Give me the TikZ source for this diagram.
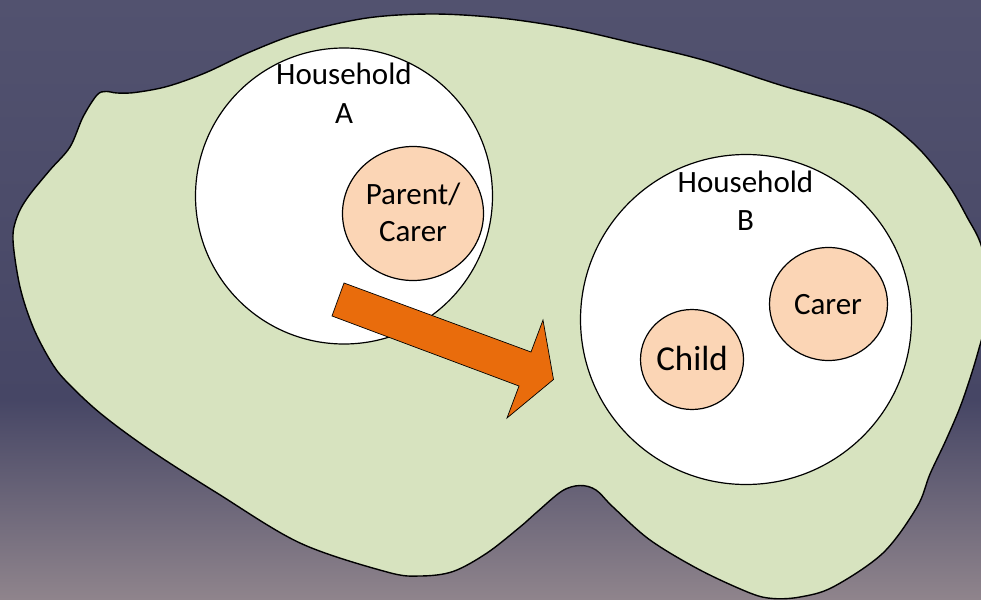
\documentclass[tikz,border=0pt]{standalone}
\usepackage{fontspec}
\setmainfont{Carlito}
\usetikzlibrary{shapes.geometric}

\definecolor{bgtop}{RGB}{82,82,111}
\definecolor{bgmid}{RGB}{70,70,101}
\definecolor{bgbot}{RGB}{143,132,140}
\definecolor{blobgreen}{RGB}{215,227,191}
\definecolor{peach}{RGB}{251,213,181}
\definecolor{moveorange}{RGB}{233,108,12}

\tikzset{
  blob/.style={fill=blobgreen, draw=black, line width=1.4pt},
  house/.style={ellipse, draw=black, fill=white, line width=1.2pt, inner sep=0pt},
  person/.style={ellipse, draw=black, fill=peach, line width=1.2pt, inner sep=0pt},
  movearrow/.style={fill=moveorange, draw=black, line width=0.7pt, line join=miter},
  lbl/.style={anchor=base, inner sep=0pt, font=\fontsize{31}{38}\selectfont},
  biglbl/.style={anchor=base, inner sep=0pt, font=\fontsize{35}{42}\selectfont}
}

\begin{document}
\begin{tikzpicture}[x=1pt, y=-1pt]
  \useasboundingbox (0,0) rectangle (981,599);
  \clip (0,0) rectangle (981,599);

  % background: slate blue fading to mauve at the bottom
  \shade[top color=bgtop, bottom color=bgmid] (0,0) rectangle (981,400);
  \shade[top color=bgmid, bottom color=bgbot] (0,399.5) rectangle (981,599);

  % community blob
  \draw[blob] plot[smooth cycle, tension=0.55] coordinates {
    (106,91.5) (117,93) (135,92.5) (167,86.5) (205,73) (250,52)
    (300,33) (367,18) (433,14) (500,18) (567,28) (633,43) (703,60)
    (780,85) (867,111) (913,143) (947,183) (967,217) (982,248)
    (990,300) (978,352) (962,402) (946,440) (930,474) (917,507)
    (883,553) (833,587) (800,597) (773,598.5) (750,593) (700,570)
    (650,540) (613,507) (596,490) (580,485.5) (562,491) (537,512)
    (520,527) (487,553) (453,571.5) (420,576) (387,572) (300,543)
    (217,493) (150,450) (100,413) (65,380) (50,360) (33,327) (20,287)
    (13,240) (17,217) (28,197) (50,170) (70,147) (83,117) (97,95)
  };

  % households
  \node[house, minimum width=297pt, minimum height=296pt] (hA) at (344,196) {};
  \node[person, minimum width=141pt, minimum height=134pt] (pc) at (413,213.5) {};

  \node[house, minimum width=331pt, minimum height=330pt] (hB) at (746,319.5) {};
  \node[person, minimum width=118pt, minimum height=113pt] (carer) at (828.5,304) {};
  \node[person, minimum width=103pt, minimum height=100pt] (child) at (692,359.5) {};

  % move from household A to household B
  \coordinate (tailT) at (344,283);
  \coordinate (tailB) at (332,316);
  \coordinate (neckT) at (531,352);
  \coordinate (barbT) at (543,320);
  \coordinate (tip)   at (553.5,379.5);
  \coordinate (barbB) at (507,418);
  \coordinate (neckB) at (519,386);
  \draw[movearrow] (tailT) -- (neckT) -- (barbT) -- (tip) -- (barbB) -- (neckB) -- (tailB) -- cycle;

  % labels
  \node[lbl] (tA1) at (344,84.3) {Household};
  \node[lbl] (tA2) at (344,124) {A};
  \node[lbl] (tP1) at (413,204) {Parent/};
  \node[lbl] (tP2) at (413,241) {Carer};
  \node[lbl] (tB1) at (745.5,192.7) {Household};
  \node[lbl] (tB2) at (745.5,230.7) {B};
  \node[lbl] (tC) at (828,314) {Carer};
  \node[biglbl] (tCh) at (692,370.7) {Child};
\end{tikzpicture}
\end{document}
